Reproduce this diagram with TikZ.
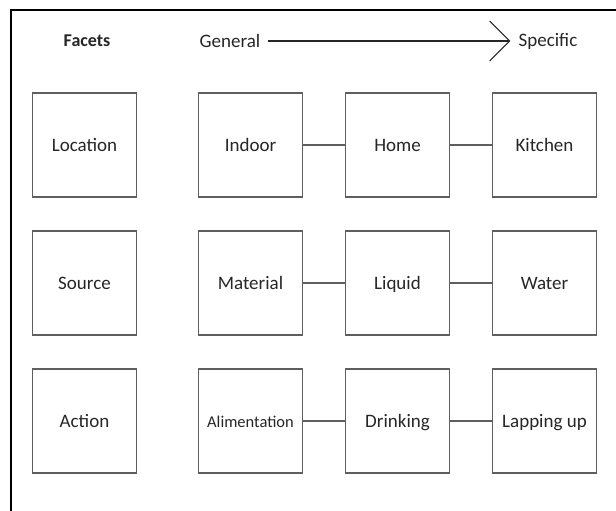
\documentclass[tikz,border=0pt]{standalone}
\usepackage{fontspec}
\setmainfont{Carlito}
\usepackage{tikz}
\usetikzlibrary{arrows.meta, positioning}
\definecolor{fcLine}{HTML}{5F5F5F}
\definecolor{fcText}{HTML}{262626}

\begin{document}
\begin{tikzpicture}[
  font=\fontsize{19}{22}\selectfont,
  facet/.style={draw=fcLine, line width=1.5pt, fill=white, align=center, text=fcText,
                minimum width=104pt, minimum height=104pt, text height=15pt, text depth=2pt},
  head/.style={text=fcText, inner sep=8pt},
  link/.style={draw=fcLine, line width=1.3pt},
  arr/.style={-{Straight Barb[length=20pt, width=40pt]}, draw=fcText, line width=1.1pt},
  node distance=32.5pt and 41.5pt,
]
\useasboundingbox (0,0) rectangle (616pt,-511pt);

% ---- frame ----
\draw[line width=1.6pt, black] (11pt,-530pt) |- (640pt,-10pt);

% ---- header ----
\node[head, font=\fontsize{18}{21}\selectfont\bfseries] (facets) at (87pt,-41pt) {Facets};
\node[head] (general) at (230pt,-41pt) {General};
\node[head] (specific) at (548pt,-41pt) {Specific};
\draw[arr] (general) -- (specific);

% ---- facet column ----
\node[facet] (location) at (84.5pt,-145pt) {Location};
\node[facet, below=of location] (source) {Source};
\node[facet, below=of source] (action) {Action};

% ---- location row ----
\node[facet, right=60.5pt of location] (indoor) {Indoor};
\node[facet, right=of indoor] (home) {Home};
\node[facet, right=of home] (kitchen) {Kitchen};

% ---- source row ----
\node[facet, right=60.5pt of source] (material) {Material};
\node[facet, right=of material] (liquid) {Liquid};
\node[facet, right=of liquid] (water) {Water};

% ---- action row ----
\node[facet, right=60.5pt of action, font=\fontsize{16.5}{19}\selectfont] (alimentation) {Alimentation};
\node[facet, right=of alimentation] (drinking) {Drinking};
\node[facet, right=of drinking] (lapping) {Lapping up};

% ---- links ----
\draw[link] (indoor) -- (home);
\draw[link] (home) -- (kitchen);
\draw[link] (material) -- (liquid);
\draw[link] (liquid) -- (water);
\draw[link] (alimentation) -- (drinking);
\draw[link] (drinking) -- (lapping);
\end{tikzpicture}
\end{document}
